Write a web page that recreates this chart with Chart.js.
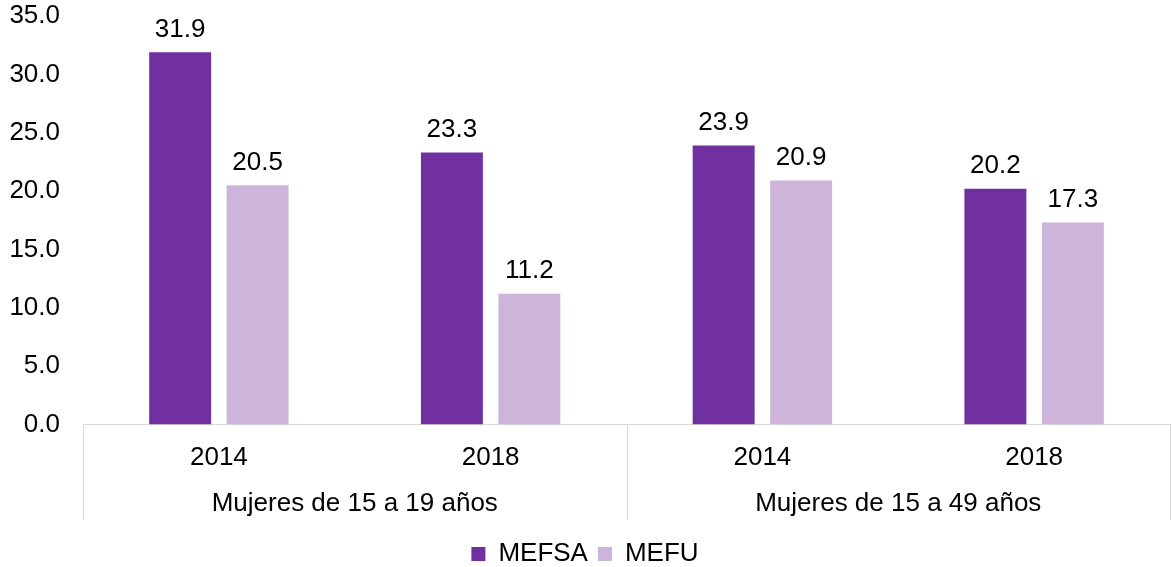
<!DOCTYPE html>
<html>
<head>
<meta charset="utf-8">
<script src="https://cdn.jsdelivr.net/npm/chart.js@4"></script>
<style>
  html, body { margin: 0; padding: 0; background: #fff; }
  #wrap { width: 1172px; height: 567px; position: relative; }
</style>
</head>
<body>
<div id="wrap"><canvas id="c" width="1172" height="567"></canvas></div>
<script>
const years = ['2014', '2018', '2014', '2018'];
const groups = ['Mujeres de 15 a 19 años', 'Mujeres de 15 a 49 años'];
const seriesNames = ['MEFSA', 'MEFU'];
const mefsa = [31.9, 23.3, 23.9, 20.2];
const mefu = [20.5, 11.2, 20.9, 17.3];
const yTicks = [0, 5, 10, 15, 20, 25, 30, 35];

const FONT = "'Liberation Sans', Arial, sans-serif";
const FS = 26;

const valueLabels = {
  id: 'valueLabels',
  afterDatasetsDraw(chart) {
    const ctx = chart.ctx;
    ctx.save();
    ctx.font = FS + 'px ' + FONT;
    ctx.fillStyle = '#000';
    ctx.textAlign = 'center';
    ctx.textBaseline = 'alphabetic';
    chart.data.datasets.forEach((ds, di) => {
      const meta = chart.getDatasetMeta(di);
      meta.data.forEach((bar, i) => {
        ctx.fillText(ds.data[i].toFixed(1), bar.x, bar.y - 15.5);
      });
    });
    ctx.restore();
  }
};

const groupAxis = {
  id: 'groupAxis',
  afterDraw(chart) {
    const ctx = chart.ctx;
    const xs = chart.scales.x;
    const bottom = chart.chartArea.bottom;
    const step = xs.getPixelForValue(1) - xs.getPixelForValue(0);
    ctx.save();
    ctx.strokeStyle = '#d9d9d9';
    ctx.lineWidth = 1;
    const per = years.length / groups.length;
    for (let g = 0; g <= groups.length; g++) {
      const idx = g * per;
      const x = Math.round(xs.getPixelForValue(Math.min(idx, years.length - 1)) + (idx >= years.length ? step / 2 : -step / 2)) + 0.5;
      ctx.beginPath();
      ctx.moveTo(x, bottom);
      ctx.lineTo(x, bottom + 95.5);
      ctx.stroke();
    }
    ctx.font = FS + 'px ' + FONT;
    ctx.fillStyle = '#000';
    ctx.textAlign = 'center';
    ctx.textBaseline = 'middle';
    groups.forEach((name, g) => {
      const a = xs.getPixelForValue(g * per);
      const b = xs.getPixelForValue(g * per + per - 1);
      ctx.fillText(name, (a + b) / 2, bottom + 79);
    });
    ctx.restore();
  }
};

new Chart(document.getElementById('c'), {
  type: 'bar',
  data: {
    labels: years,
    datasets: [
      { label: seriesNames[0], data: mefsa, backgroundColor: '#7030a0', categoryPercentage: 0.57, barPercentage: 0.8 },
      { label: seriesNames[1], data: mefu, backgroundColor: '#cdb4db', categoryPercentage: 0.57, barPercentage: 0.8 }
    ]
  },
  options: {
    responsive: false,
    animation: false,
    layout: { padding: { top: 16, right: 2, left: 0, bottom: -10 } },
    plugins: {
      legend: {
        position: 'bottom',
        labels: {
          boxWidth: 14,
          boxHeight: 14,
          padding: 10,
          color: '#000',
          font: { family: FONT, size: FS }
        }
      },
      tooltip: { enabled: false }
    },
    scales: {
      x: {
        grid: { display: false, drawTicks: false },
        border: { display: true, color: '#d9d9d9', width: 1 },
        ticks: { color: '#000', font: { family: FONT, size: FS }, padding: 17.5, maxRotation: 0 },
        afterFit(scale) { scale.height = 106.5; }
      },
      y: {
        min: 0,
        max: 35,
        grid: { display: false, drawTicks: false },
        border: { display: false },
        afterBuildTicks(scale) { scale.ticks = yTicks.map(v => ({ value: v })); },
        ticks: {
          color: '#000',
          font: { family: FONT, size: FS },
          padding: 23,
          callback: v => Number(v).toFixed(1)
        },
        afterFit(scale) { scale.width = 83; scale.paddingTop = 0; scale.paddingBottom = 0; }
      }
    }
  },
  plugins: [valueLabels, groupAxis]
});
</script>
</body>
</html>
